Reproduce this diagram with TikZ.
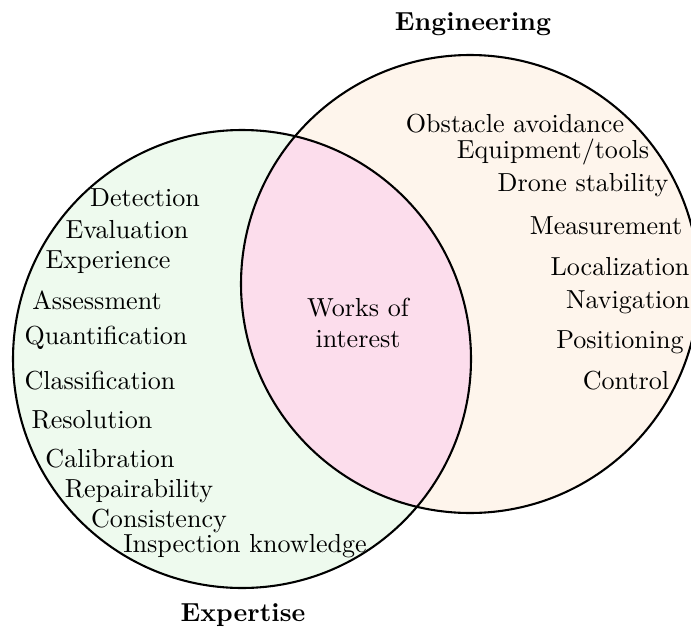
\documentclass[tikz,border=0pt]{standalone}
\begin{document}
\begin{tikzpicture}[x=0.3836pt, y=-0.3836pt,
  every node/.style={inner sep=0pt, font=\normalsize},
  item/.style={anchor=center},
  title/.style={anchor=center, font=\normalsize\bfseries},
  ring/.style={draw=black, thick}]
\definecolor{expfill}{RGB}{238,250,238}
\definecolor{engfill}{RGB}{254,245,236}
\definecolor{bothfill}{RGB}{252,221,236}
\useasboundingbox (0,0) rectangle (691,631);

% circle centres
\coordinate (cE) at (242,359);
\coordinate (cG) at (470,284);
\def\rad{229}

% fills
\fill[expfill] (cE) circle[radius=\rad];
\fill[engfill] (cG) circle[radius=\rad];
\begin{scope}
  \clip (cE) circle[radius=\rad];
  \fill[bothfill] (cG) circle[radius=\rad];
\end{scope}
\draw[ring] (cE) circle[radius=\rad];
\draw[ring] (cG) circle[radius=\rad];

% titles
\node[title] (tEng) at (473,24) {Engineering};
\node[title] (tExp) at (243,615) {Expertise};

% overlap
\node[item, align=center] (works) at (358,323) {Works of\\interest};

% expertise items
\node[item] (e1) at (145,198) {Detection};
\node[item] (e2) at (127,230) {Evaluation};
\node[item] (e3) at (108,262) {Experience};
\node[item] (e4) at (97,300) {Assessment};
\node[item] (e5) at (106,338) {Quantification};
\node[item] (e6) at (100,381) {Classification};
\node[item] (e7) at (92,420) {Resolution};
\node[item] (e8) at (110,459) {Calibration};
\node[item] (e9) at (139,491) {Repairability};
\node[item] (e10) at (159,521) {Consistency};
\node[item] (e11) at (245,546) {Inspection knowledge};

% engineering items
\node[item] (g1) at (515,124) {Obstacle avoidance};
\node[item] (g2) at (553,152) {Equipment/tools};
\node[item] (g3) at (583,185) {Drone stability};
\node[item] (g4) at (606,226) {Measurement};
\node[item] (g5) at (620,267) {Localization};
\node[item] (g6) at (628,302) {Navigation};
\node[item] (g7) at (620,342) {Positioning};
\node[item] (g8) at (626,381) {Control};
\end{tikzpicture}
\end{document}
